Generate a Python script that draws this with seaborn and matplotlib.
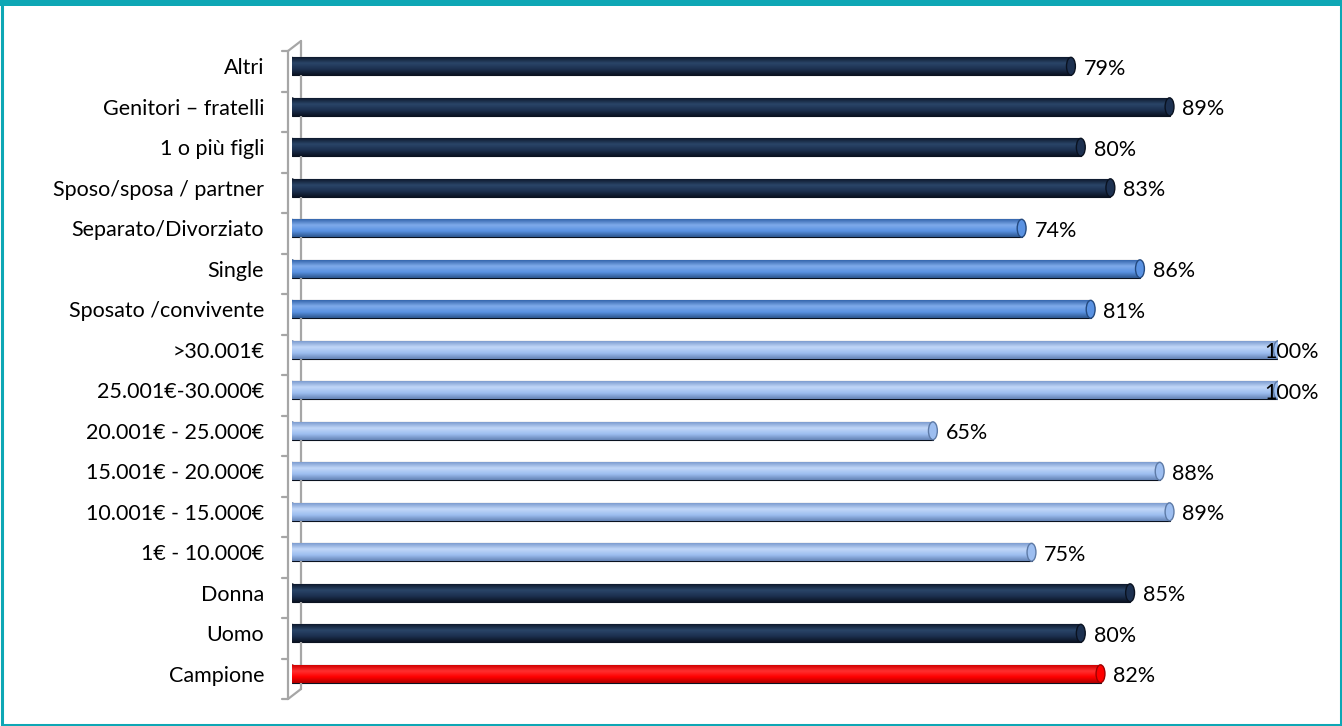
import numpy as np
import pandas as pd
import matplotlib
matplotlib.use("Agg")
import matplotlib.pyplot as plt
import matplotlib.transforms as mtransforms
from matplotlib.colors import LinearSegmentedColormap
from matplotlib.patches import Ellipse, Rectangle
import seaborn as sns

# ---- data (top to bottom) ----
categories = ["Altri", "Genitori – fratelli", "1 o più figli", "Sposo/sposa / partner",
              "Separato/Divorziato", "Single", "Sposato /convivente",
              ">30.001€", "25.001€-30.000€", "20.001€ - 25.000€", "15.001€ - 20.000€",
              "10.001€ - 15.000€", "1€ - 10.000€", "Donna", "Uomo", "Campione"]
values = [79, 89, 80, 83, 74, 86, 81, 100, 100, 65, 88, 89, 75, 85, 80, 82]
groups = ["navy"] * 4 + ["mid"] * 3 + ["light"] * 6 + ["navy"] * 2 + ["red"]

base = {"navy": "#1a2c4c", "mid": "#5a92e2", "light": "#9dbef0", "red": "#ff0000"}
shades = {
    "navy": ["#0e1a2e", "#2a4568", "#1c3050", "#0a1322"],
    "mid": ["#3566ad", "#7eaaea", "#5a92e2", "#2c568f"],
    "light": ["#7d9cd0", "#c1d7f8", "#9dbef0", "#6584b6"],
    "red": ["#d00000", "#ff3030", "#ff0000", "#b00000"],
}
edge = {"navy": "#0a1220", "mid": "#244a80", "light": "#5d7aa6", "red": "#a00000"}

df = pd.DataFrame({"cat": categories, "val": values, "grp": groups})

sns.set_theme(style="white")
plt.rcParams["font.family"] = ["Lato", "DejaVu Sans"]

W, H, DPI = 1342, 726, 100
fig = plt.figure(figsize=(W / DPI, H / DPI), dpi=DPI)
fig.patch.set_facecolor("white")

ax_left, ax_right, ax_top, ax_bot = 292, 1278, 46, 694
ax = fig.add_axes([ax_left / W, 1 - ax_bot / H, (ax_right - ax_left) / W, (ax_bot - ax_top) / H])

palette = [base[g] for g in groups]
sns.barplot(data=df, x="val", y="cat", hue="cat", palette=palette, legend=False,
            width=0.44, ax=ax, linewidth=0.8, edgecolor=[edge[g] for g in groups], saturation=1)

ax.set_xlim(0, 100)
ax.set_ylim(len(categories) - 0.5, -0.5)

# cylinder shading
grad = np.linspace(0, 1, 64).reshape(-1, 1)
for patch, g, v in zip(ax.patches, groups, values):
    x0, y0 = patch.get_x(), patch.get_y()
    w, h = patch.get_width(), patch.get_height()
    cmap = LinearSegmentedColormap.from_list(g, shades[g])
    im = ax.imshow(grad, cmap=cmap, aspect="auto", extent=(x0, x0 + w, y0 + h, y0),
                   origin="upper", zorder=patch.get_zorder() + 0.1, interpolation="bilinear")
    im.set_clip_path(patch)
    cap = Ellipse((x0 + w, y0 + h / 2), width=0.9, height=h, facecolor=shades[g][2],
                  edgecolor=edge[g], linewidth=1.0, zorder=patch.get_zorder() + 0.2)
    ax.add_patch(cap)
    capL = Ellipse((x0, y0 + h / 2), width=0.9, height=h, facecolor=shades[g][2],
                   edgecolor=edge[g], linewidth=0.8, zorder=patch.get_zorder() - 0.1)
    ax.add_patch(capL)

ax.set_xlim(0, 100)
ax.set_ylim(len(categories) - 0.5, -0.5)

# value labels
for i, v in enumerate(values):
    ax.text(min(v + 1.3, 98.6), i + 0.06, f"{v}%", va="center", ha="left",
            fontsize=15.5, color="black", zorder=10, clip_on=False)

# axes styling
for s in ax.spines.values():
    s.set_visible(False)
ax.set_xticks([])
ax.set_xlabel("")
ax.set_ylabel("")
ax.tick_params(axis="y", length=0, pad=20, labelsize=15.5, colors="black")
ax.set_facecolor("white")

# pseudo-3D wall
grey = "#a6a6a6"
front = mtransforms.offset_copy(ax.transAxes, fig=fig, x=-4, y=-5, units="dots")
back = mtransforms.offset_copy(ax.transAxes, fig=fig, x=9, y=5, units="dots")
ax.plot([0, 0], [0, 1], color=grey, lw=1.6, transform=front, clip_on=False, zorder=1)
ax.plot([0, 0], [0, 1], color=grey, lw=1.6, transform=back, clip_on=False, zorder=1)
for yy in (0, 1):
    p0 = front.transform((0, yy))
    p1 = back.transform((0, yy))
    fig.add_artist(plt.Line2D([p0[0] / W, p1[0] / W], [p0[1] / H, p1[1] / H],
                              color=grey, lw=1.6, transform=fig.transFigure))
tick_tr = mtransforms.offset_copy(ax.get_yaxis_transform(), fig=fig, x=0, y=-5, units="dots")
for b in np.arange(-0.5, len(categories), 1.0):
    p = tick_tr.transform((0, b))
    fig.add_artist(plt.Line2D([(p[0] - 10) / W, (p[0] - 4) / W], [p[1] / H, p[1] / H],
                              color=grey, lw=1.6, transform=fig.transFigure))

# teal frame
teal = "#0ea7b5"
fig.add_artist(Rectangle((1.5 / W, 1.5 / H), (W - 3) / W, (H - 3) / H, transform=fig.transFigure,
                         fill=False, edgecolor=teal, linewidth=2.2))
fig.add_artist(Rectangle((0, 1 - 6 / H), 1, 6 / H, transform=fig.transFigure,
                         facecolor=teal, edgecolor="none"))

fig.savefig("out.png", dpi=DPI, facecolor="white")
